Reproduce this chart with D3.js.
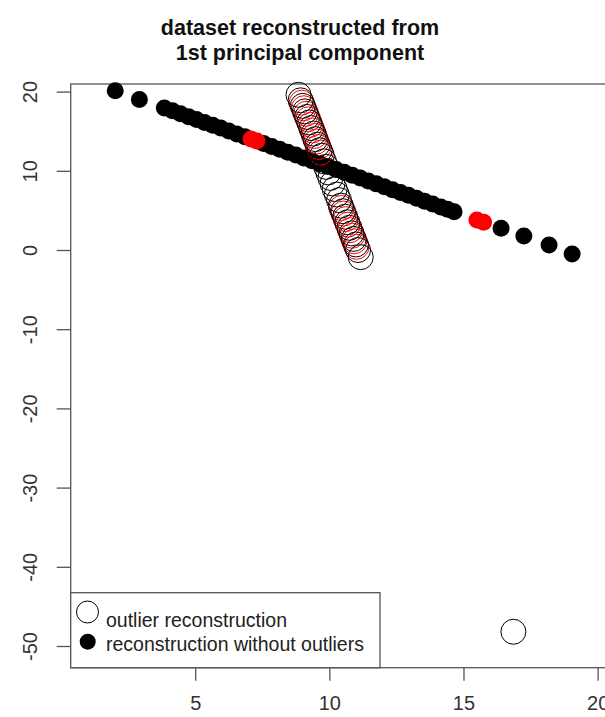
<!DOCTYPE html>
<html>
<head>
<meta charset="utf-8">
<script src="https://cdn.jsdelivr.net/npm/d3@7"></script>
<style>
  body { margin: 0; background: #fff; }
  text { font-family: "Liberation Sans", Arial, sans-serif; }
</style>
</head>
<body>
<svg id="chart" width="605" height="717"></svg>
<script>
// reconstruction without outliers (filled) - x values and y values
var fullX = [2.02, 2.92, 3.85, 4.15, 4.45, 4.75, 5.05, 5.35, 5.65, 5.95, 6.25, 6.55, 6.85,
             7.55, 7.85, 8.15, 8.45, 8.75, 9.05, 9.35, 9.65, 9.95, 10.25, 10.55, 10.85,
             11.15, 11.45, 11.75, 12.05, 12.35, 12.65, 12.95, 13.25, 13.55, 13.85, 14.15,
             14.4, 14.65, 16.4, 17.25, 18.19, 19.05];
var fullY = [20.1, 19.0, 17.93, 17.57, 17.2, 16.84, 16.48, 16.11, 15.75, 15.39, 15.02, 14.66, 14.29,
             13.44, 13.08, 12.72, 12.35, 11.99, 11.63, 11.26, 10.9, 10.54, 10.17, 9.81, 9.44,
             9.08, 8.72, 8.35, 7.99, 7.62, 7.26, 6.9, 6.53, 6.17, 5.8, 5.44,
             5.14, 4.84, 2.74, 1.77, 0.63, -0.5];
// highlighted (red) points on the same line
var redX = [7.08, 7.3, 15.5, 15.75];
var redY = [14.02, 13.75, 3.8, 3.5];

// outlier reconstruction (open circles)
var openX = [8.85, 8.93, 9.01, 9.09, 9.17, 9.25, 9.33, 9.41, 9.48, 9.56, 9.64, 9.72, 9.80, 9.88, 9.96,
             10.04, 10.12, 10.20, 10.28, 10.36, 10.43, 10.51, 10.59, 10.67, 10.75, 10.83, 10.91, 10.99, 11.07, 11.17,
             16.86];
var openY = [19.6, 18.9, 18.2, 17.5, 16.8, 16.1, 15.4, 14.7, 14.0, 13.3, 12.6, 11.9, 11.2, 10.5, 9.8,
             9.1, 8.4, 7.7, 7.0, 6.3, 5.6, 4.9, 4.2, 3.5, 2.8, 2.1, 1.4, 0.7, 0.0, -0.9,
             -48.2];
var openRedX = [8.97, 9.05, 9.13, 9.21, 9.29, 9.37, 9.45, 9.52, 9.60, 9.68,
                10.45, 10.53, 10.61, 10.69, 10.77, 10.85, 10.93, 11.01];
var openRedY = [18.6, 17.9, 17.2, 16.5, 15.8, 15.1, 14.4, 13.7, 13.0, 12.3,
                5.3, 4.6, 3.9, 3.2, 2.5, 1.8, 1.1, 0.4];

var xTicks = [5, 10, 15, 20];
var yTicks = [20, 10, 0, -10, -20, -30, -40, -50];
var titleLines = ["dataset reconstructed from", "1st principal component"];
var legendLabels = ["outlier reconstruction", "reconstruction without outliers"];

var svg = d3.select("#chart");
// plot box edges (right edge runs past the picture, as in the reference)
var boxL = 70.7, boxT = 84, boxB = 667.7, boxR = 625;

var x = d3.scaleLinear().domain([0.36, 21.02]).range([boxL, boxR]);
var y = d3.scaleLinear().domain([-52.74, 20.96]).range([boxB, boxT]);

svg.append("rect").attr("width", 605).attr("height", 717).attr("fill", "#fff");

// title
svg.selectAll(".title")
  .data(titleLines)
  .enter().append("text")
  .attr("class", "title")
  .attr("x", 300)
  .attr("y", function(d, i) { return 35 + i * 25; })
  .attr("text-anchor", "middle")
  .style("font-size", "21.5px")
  .style("font-weight", "bold")
  .attr("fill", "#111")
  .text(function(d) { return d; });

// axes - R prints a plain hyphen for negatives
var plain = function(d) { return String(d); };
var xAxis = svg.append("g")
  .attr("transform", "translate(0," + boxB + ")")
  .call(d3.axisBottom(x).tickValues(xTicks).tickSize(13).tickPadding(15).tickFormat(plain));
var yAxis = svg.append("g")
  .attr("transform", "translate(" + boxL + ",0)")
  .call(d3.axisLeft(y).tickValues(yTicks).tickSize(14).tickFormat(plain));

[xAxis, yAxis].forEach(function(g) {
  g.select(".domain").remove();
  g.selectAll(".tick line").attr("stroke", "#555").attr("stroke-width", 1.3);
  g.selectAll("text").attr("fill", "#333").style("font-size", "20px")
    .style("font-family", "'Liberation Sans', Arial, sans-serif");
});
// rotate y labels like R
yAxis.selectAll("text")
  .attr("transform", "rotate(-90)")
  .attr("text-anchor", "middle")
  .attr("x", 0)
  .attr("y", -33.7)
  .attr("dy", 0);

// plot box
svg.append("rect")
  .attr("x", boxL).attr("y", boxT)
  .attr("width", boxR - boxL).attr("height", boxB - boxT)
  .attr("fill", "none").attr("stroke", "#555").attr("stroke-width", 1.3);

// filled reconstruction
svg.selectAll(".full")
  .data(fullX)
  .enter().append("circle")
  .attr("cx", function(d) { return x(d); })
  .attr("cy", function(d, i) { return y(fullY[i]); })
  .attr("r", 8.5)
  .attr("fill", "#000");
svg.selectAll(".red")
  .data(redX)
  .enter().append("circle")
  .attr("cx", function(d) { return x(d); })
  .attr("cy", function(d, i) { return y(redY[i]); })
  .attr("r", 8.5)
  .attr("fill", "#f00");

// outlier reconstruction: red rings first, black ones over them
svg.selectAll(".openred")
  .data(openRedX)
  .enter().append("circle")
  .attr("cx", function(d) { return x(d); })
  .attr("cy", function(d, i) { return y(openRedY[i]); })
  .attr("r", 12.5)
  .attr("fill", "none").attr("stroke", "#f00").attr("stroke-width", 1);
svg.selectAll(".open")
  .data(openX)
  .enter().append("circle")
  .attr("cx", function(d) { return x(d); })
  .attr("cy", function(d, i) { return y(openY[i]); })
  .attr("r", 12.5)
  .attr("fill", "none").attr("stroke", "#000").attr("stroke-width", 1);

// legend
var lg = svg.append("g");
lg.append("rect")
  .attr("x", boxL).attr("y", 592.7)
  .attr("width", 380 - boxL).attr("height", boxB - 592.7)
  .attr("fill", "#fff").attr("stroke", "#555").attr("stroke-width", 1.3);
lg.append("circle").attr("cx", 87.5).attr("cy", 612).attr("r", 11)
  .attr("fill", "none").attr("stroke", "#000").attr("stroke-width", 1);
lg.append("circle").attr("cx", 87.7).attr("cy", 641.7).attr("r", 8)
  .attr("fill", "#000");
lg.selectAll(".lt")
  .data(legendLabels)
  .enter().append("text")
  .attr("x", 106)
  .attr("y", function(d, i) { return 627 + i * 24; })
  .style("font-size", "19.5px")
  .attr("fill", "#222")
  .text(function(d) { return d; });
</script>
</body>
</html>
